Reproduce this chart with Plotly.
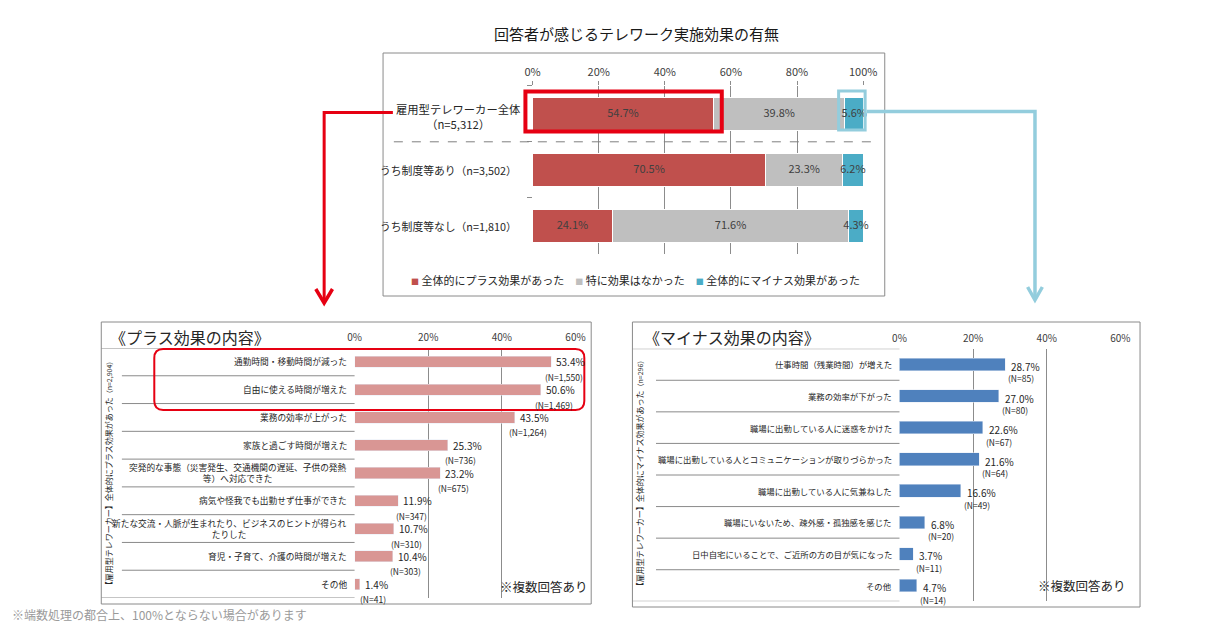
import plotly.graph_objects as go

# ---------------- data ----------------
top_categories = ['雇用型テレワーカー全体<br>（n=5,312）', 'うち制度等あり（n=3,502）', 'うち制度等なし（n=1,810）']
top_series = ['全体的にプラス効果があった', '特に効果はなかった', '全体的にマイナス効果があった']
plus_overall = [54.7, 70.5, 24.1]
no_effect = [39.8, 23.3, 71.6]
minus_overall = [5.6, 6.2, 4.3]
top_ticks = [0, 20, 40, 60, 80, 100]

plus_items = ['通勤時間・移動時間が減った', '自由に使える時間が増えた', '業務の効率が上がった',
              '家族と過ごす時間が増えた', '突発的な事態（災害発生、交通機関の遅延、子供の発熱<br>等）へ対応できた',
              '病気や怪我でも出勤せず仕事ができた', '新たな交流・人脈が生まれたり、ビジネスのヒントが得られ<br>たりした',
              '育児・子育て、介護の時間が増えた', 'その他']
plus_pct = [53.4, 50.6, 43.5, 25.3, 23.2, 11.9, 10.7, 10.4, 1.4]
plus_n = ['1,550', '1,469', '1,264', '736', '675', '347', '310', '303', '41']

minus_items = ['仕事時間（残業時間）が増えた', '業務の効率が下がった', '職場に出勤している人に迷惑をかけた',
               '職場に出勤している人とコミュニケーションが取りづらかった', '職場に出勤している人に気兼ねした',
               '職場にいないため、疎外感・孤独感を感じた', '日中自宅にいることで、ご近所の方の目が気になった', 'その他']
minus_pct = [28.7, 27.0, 22.6, 21.6, 16.6, 6.8, 3.7, 4.7]
minus_n = ['85', '80', '67', '64', '49', '20', '11', '14']
bottom_ticks = [0, 20, 40, 60]

# ---------------- styling ----------------
W, H = 1210, 624
FONT = 'Noto Sans CJK JP'
TOP_COLORS = ['#C0504D', '#BFBFBF', '#4BACC6']
PLUS_COLOR = '#D99694'
MINUS_COLOR = '#4F81BD'
GRID = '#8C8C8C'
TXT = '#262626'
RED = '#E60012'
LBLUE = '#93CDDD'


def fx(px):
    return px / W


def fy(py):
    return 1 - py / H


def path(points, close=False):
    s = 'M ' + ' L '.join(f'{fx(x):.5f},{fy(y):.5f}' for x, y in points)
    return s + (' Z' if close else '')


def note(text, x, y, size, xanchor='center', color=TXT, **kw):
    return dict(text=text, x=fx(x), y=fy(y), xref='paper', yref='paper', xanchor=xanchor,
                yanchor='middle', showarrow=False, font=dict(size=size, color=color), **kw)


fig = go.Figure()

# top stacked bars
series_vals = [plus_overall, no_effect, minus_overall]
base = [0.0] * len(top_categories)
for name, vals, col in zip(top_series, series_vals, TOP_COLORS):
    fig.add_trace(go.Bar(
        y=top_categories, x=vals, orientation='h', name=name,
        marker=dict(color=col, line=dict(color='white', width=1)), width=0.6,
        xaxis='x', yaxis='y', showlegend=False, hoverinfo='skip'))
    mids = [b + v / 2 for b, v in zip(base, vals)]
    fig.add_trace(go.Scatter(
        x=mids, y=top_categories, mode='text', text=[f'{v:.1f}%' for v in vals],
        textfont=dict(family=FONT, size=11, color='#404040'), cliponaxis=False,
        xaxis='x', yaxis='y', showlegend=False, hoverinfo='skip'))
    base = [b + v for b, v in zip(base, vals)]

fig.add_trace(go.Bar(y=plus_items, x=plus_pct, orientation='h', marker=dict(color=PLUS_COLOR),
                     width=0.4, xaxis='x2', yaxis='y2', showlegend=False, hoverinfo='skip'))
fig.add_trace(go.Bar(y=minus_items, x=minus_pct, orientation='h', marker=dict(color=MINUS_COLOR),
                     width=0.4, xaxis='x3', yaxis='y3', showlegend=False, hoverinfo='skip'))

xcommon = dict(side='top', showgrid=True, gridcolor=GRID, gridwidth=1, zeroline=False,
               showline=False, fixedrange=True)
ycommon = dict(type='category', showticklabels=False, showgrid=False, zeroline=False,
               showline=False, fixedrange=True)

fig.update_layout(
    width=W, height=H, margin=dict(l=0, r=0, t=0, b=0),
    paper_bgcolor='white', plot_bgcolor='rgba(0,0,0,0)', barmode='stack',
    font=dict(family=FONT, color=TXT),
    xaxis=dict(domain=[fx(534.3), fx(871)], anchor='y', range=[0, 100], tickmode='array',
               tickvals=top_ticks, ticktext=[f'{t}%' for t in top_ticks],
               ticks='outside', ticklen=4, tickcolor=GRID,
               tickfont=dict(family=FONT, size=11, color='#404040'), **xcommon),
    yaxis=dict(domain=[fy(253.8), fy(85.8)], anchor='x', categoryorder='array',
               categoryarray=top_categories, range=[2.5, -0.5], ticks='outside',
               tickson='boundaries', ticklen=5, tickcolor=GRID, **ycommon),
    xaxis2=dict(domain=[fx(353), fx(578)], anchor='y2', range=[0, 60], tickmode='array',
                tickvals=bottom_ticks, ticktext=[f'{t}%' for t in bottom_ticks], ticklabelstandoff=4,
                tickfont=dict(family=FONT, size=10, color='#404040'), **xcommon),
    yaxis2=dict(domain=[fy(598), fy(348)], anchor='x2', categoryorder='array',
                categoryarray=plus_items, range=[len(plus_items) - 0.5, -0.5], **ycommon),
    xaxis3=dict(domain=[fx(908), fx(1133)], anchor='y3', range=[0, 60], tickmode='array',
                tickvals=bottom_ticks, ticktext=[f'{t}%' for t in bottom_ticks], ticklabelstandoff=4,
                tickfont=dict(family=FONT, size=10, color='#404040'), **xcommon),
    yaxis3=dict(domain=[fy(601.3), fy(348.7)], anchor='x3', categoryorder='array',
                categoryarray=minus_items, range=[len(minus_items) - 0.5, -0.5], **ycommon),
)

ann = []
shapes = []

# title
ann.append(note('回答者が感じるテレワーク実施効果の有無', 640, 33, 15, color='#1a1a1a'))

# top category labels
for c in top_categories:
    if '<br>' in c:
        ann.append(dict(text=c, x=fx(458), y=c, xref='paper', yref='y', xanchor='center', align='center',
                        yanchor='middle', yshift=-3, showarrow=False, font=dict(size=11.3, color=TXT)))
    else:
        ann.append(dict(text=c, x=fx(520), y=c, xref='paper', yref='y', xanchor='right',
                        yanchor='middle', showarrow=False, font=dict(size=10.8, color=TXT)))

# legend (as text)
sq = '<span style="color:{};font-size:8px">■</span>'
legend_txt = '\u2002\u2002'.join(f'{sq.format(col)} {name}' for name, col in zip(top_series, TOP_COLORS))
ann.append(note(legend_txt, 639, 279.5, 11))

# panel titles
ann.append(note('《プラス効果の内容》', 102, 337, 16, xanchor='left'))
ann.append(note('《マイナス効果の内容》', 646, 337, 16, xanchor='left'))

# vertical side labels
ann.append(note('【雇用型テレワーカー】全体的にプラス効果があった<span style="font-size:7px">（n=2,904）</span>',
                102, 473, 8, textangle=-90))
ann.append(note('【雇用型テレワーカー】全体的にマイナス効果があった<span style="font-size:7px">（n=296）</span>',
                643, 473, 8, textangle=-90))

# bottom-left category labels and values
for c, v, n in zip(plus_items, plus_pct, plus_n):
    ann.append(dict(text=c, x=fx(347), y=c, xref='paper', yref='y2', xanchor='right', yanchor='middle',
                    align='center', showarrow=False, font=dict(size=8.7, color=TXT)))
    ann.append(dict(text=f'{v:.1f}%', x=v, y=c, xref='x2', yref='y2', xanchor='left', yanchor='middle',
                    xshift=3, showarrow=False, font=dict(size=10, color=TXT)))
    ann.append(dict(text=f'(N={n})', x=v, y=c, xref='x2', yref='y2', xanchor='center', yanchor='middle',
                    xshift=13, yshift=-15, showarrow=False, font=dict(size=8.5, color=TXT)))

for c, v, n in zip(minus_items, minus_pct, minus_n):
    ann.append(dict(text=c, x=fx(902), y=c, xref='paper', yref='y3', xanchor='right', yanchor='middle',
                    align='center', showarrow=False, font=dict(size=8.4, color=TXT)))
    ann.append(dict(text=f'{v:.1f}%', x=v, y=c, xref='x3', yref='y3', xanchor='left', yanchor='middle',
                    xshift=4, yshift=-2, showarrow=False, font=dict(size=10, color=TXT)))
    ann.append(dict(text=f'(N={n})', x=v, y=c, xref='x3', yref='y3', xanchor='center', yanchor='middle',
                    xshift=16, yshift=-14, showarrow=False, font=dict(size=8.5, color=TXT)))

ann.append(note('※複数回答あり', 593, 586, 12.5, xanchor='right'))
ann.append(note('※複数回答あり', 1141, 585, 12.5, xanchor='right'))
ann.append(note('※端数処理の都合上、100%とならない場合があります', 2, 614, 12, xanchor='left', color='#9A9A9A'))

# boxes
for x0, y0, x1, y1 in [(382, 53, 893, 296), (95, 322, 594, 604), (636, 322, 1153, 607)]:
    shapes.append(dict(type='rect', xref='paper', yref='paper', x0=fx(x0), x1=fx(x1), y0=fy(y0), y1=fy(y1),
                       line=dict(color='#8A8A8A', width=1), layer='below'))

# top dashed separator
shapes.append(dict(type='line', xref='paper', yref='y', x0=fx(393), x1=fx(887), y0=0.5, y1=0.5,
                   line=dict(color='#7F7F7F', width=1, dash='dash')))

# row separators in bottom panels
for items, yref, xl, xa, xb in [(plus_items, 'y2', 116, 353, 95), (minus_items, 'y3', 660, 908, 636)]:
    k = len(items)
    for i in range(k - 1):
        shapes.append(dict(type='line', xref='paper', yref=yref, x0=fx(xl), x1=fx(xa), y0=i + 0.5, y1=i + 0.5,
                           line=dict(color='#8A8A8A', width=1)))
    for yy in (-0.5, k - 0.5):
        shapes.append(dict(type='line', xref='paper', yref=yref, x0=fx(xb), x1=fx(xa), y0=yy, y1=yy,
                           line=dict(color='#8A8A8A', width=1)))

# highlight rectangles
shapes.append(dict(type='rect', xref='paper', yref='paper', x0=fx(527), x1=fx(727), y0=fy(91.5), y1=fy(131.5),
                   line=dict(color=RED, width=4)))
shapes.append(dict(type='rect', xref='paper', yref='paper', x0=fx(846), x1=fx(873), y0=fy(91), y1=fy(130),
                   line=dict(color=LBLUE, width=3)))

# rounded rectangle on plus panel
x0, x1, y0, y1, r = 149, 587, 349, 410, 9
rr = (f'M {fx(x0 + r):.5f},{fy(y0):.5f} L {fx(x1 - r):.5f},{fy(y0):.5f} '
      f'Q {fx(x1):.5f},{fy(y0):.5f} {fx(x1):.5f},{fy(y0 + r):.5f} L {fx(x1):.5f},{fy(y1 - r):.5f} '
      f'Q {fx(x1):.5f},{fy(y1):.5f} {fx(x1 - r):.5f},{fy(y1):.5f} L {fx(x0 + r):.5f},{fy(y1):.5f} '
      f'Q {fx(x0):.5f},{fy(y1):.5f} {fx(x0):.5f},{fy(y1 - r):.5f} L {fx(x0):.5f},{fy(y0 + r):.5f} '
      f'Q {fx(x0):.5f},{fy(y0):.5f} {fx(x0 + r):.5f},{fy(y0):.5f} Z')
shapes.append(dict(type='path', xref='paper', yref='paper', path=rr, line=dict(color=RED, width=2)))

# arrows
shapes.append(dict(type='path', xref='paper', yref='paper', path=path([(392, 112.5), (322, 112.5), (322, 301)]),
                   line=dict(color=RED, width=3)))
shapes.append(dict(type='path', xref='paper', yref='paper', path=path([(313.5, 289), (322, 303), (330.5, 289)]),
                   line=dict(color=RED, width=3.5)))
shapes.append(dict(type='path', xref='paper', yref='paper', path=path([(874.5, 111.5), (1046, 111.5), (1046, 298)]),
                   line=dict(color=LBLUE, width=3.5)))
shapes.append(dict(type='path', xref='paper', yref='paper', path=path([(1038.5, 287), (1046, 300), (1053.5, 287)]),
                   line=dict(color=LBLUE, width=3.5)))

fig.update_layout(annotations=ann, shapes=shapes)
fig.write_html('out.html', config={'displayModeBar': False},
               post_script=("document.documentElement.style.overflow='hidden';"
                            "document.body.style.overflow='hidden';"
                            "document.body.style.margin='0';document.body.style.padding='0';"))
